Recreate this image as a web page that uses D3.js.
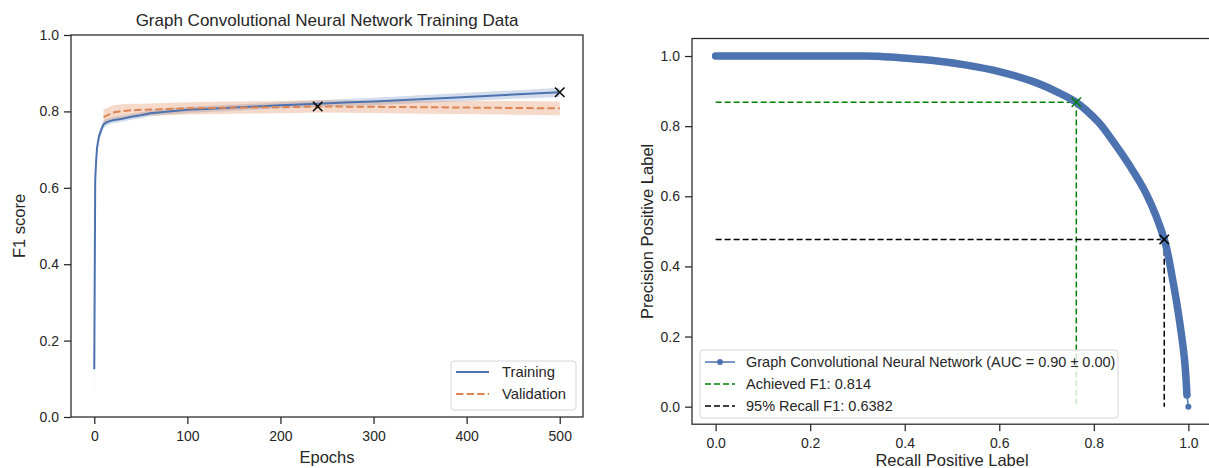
<!DOCTYPE html>
<html>
<head>
  <script src="https://cdnjs.cloudflare.com/ajax/libs/d3/7.8.5/d3.min.js"></script>
  <style>
    body { margin: 0; background: #fff; }
    svg text { font-family: "Liberation Sans", Arial, sans-serif; fill: #262626; }
  </style>
</head>
<body>
  <script>
    // ---- left panel: training curves ----
    var trainEpochs = [0, 1, 2, 3, 5, 8, 10, 13, 16, 20, 25, 30, 40, 50, 60, 80, 100, 125, 150, 175, 200, 240, 275, 300, 350, 400, 450, 500];
    var trainF1 = [0.125, 0.62, 0.67, 0.705, 0.734, 0.755, 0.766, 0.771, 0.774, 0.777, 0.779, 0.781, 0.786, 0.79, 0.795, 0.8, 0.804, 0.807, 0.81, 0.813, 0.816, 0.82, 0.824, 0.826, 0.832, 0.838, 0.844, 0.85];
    var trainStd = [0.125, 0.03, 0.02, 0.015, 0.012, 0.01, 0.01, 0.009, 0.008, 0.008, 0.008, 0.008, 0.008, 0.008, 0.008, 0.008, 0.008, 0.008, 0.008, 0.008, 0.008, 0.009, 0.009, 0.01, 0.01, 0.011, 0.011, 0.012];

    var valEpochs = [10, 20, 30, 40, 50, 75, 100, 150, 200, 240, 300, 350, 400, 450, 500];
    var valF1 = [0.785, 0.797, 0.801, 0.803, 0.804, 0.806, 0.808, 0.81, 0.811, 0.813, 0.812, 0.811, 0.81, 0.809, 0.808];
    var valStd = [0.02, 0.019, 0.018, 0.017, 0.016, 0.016, 0.016, 0.016, 0.016, 0.016, 0.016, 0.017, 0.017, 0.018, 0.018];

    var bestVal = [240, 0.813];
    var lastTrain = [500, 0.85];

    var leftXTicks = [0, 100, 200, 300, 400, 500];
    var leftYTicks = [0, 0.2, 0.4, 0.6, 0.8, 1.0];

    // ---- right panel: precision recall ----
    var recall = [0, 0.1, 0.2, 0.3, 0.35, 0.39, 0.46, 0.531, 0.602, 0.672, 0.722, 0.763, 0.81, 0.84, 0.875, 0.911, 0.949, 0.967, 0.981, 0.992, 0.997, 1.0];
    var precision = [1, 1, 1, 1, 0.999, 0.995, 0.987, 0.974, 0.955, 0.927, 0.898, 0.868, 0.811, 0.758, 0.689, 0.607, 0.477, 0.361, 0.247, 0.133, 0.033, 0.0];

    var achieved = [0.763, 0.868];
    var recall95 = [0.949, 0.477];

    var rightTicks = [0, 0.2, 0.4, 0.6, 0.8, 1.0];

    var blue = "#4c72b0", orange = "#dd8452", ink = "#262626";

    var svg = d3.select("body").append("svg")
      .attr("width", 1209)
      .attr("height", 468);

    function zip(a, b) {
      return a.map(function(v, i) { return [v, b[i]]; });
    }

    function drawX(g, x, y, c) {
      g.append("path")
        .attr("d", d3.symbol(d3.symbolX, 60)())
        .attr("transform", "translate(" + x + "," + y + ")")
        .attr("stroke", c)
        .attr("stroke-width", 1.5);
    }

    function styleAxis(g) {
      g.selectAll(".domain").remove();
      g.selectAll(".tick line").attr("stroke", ink).attr("stroke-width", 1.25);
      g.selectAll(".tick text").style("font-size", "14px").attr("fill", ink);
    }

    // ================= LEFT =================
    var L = { left: 71, right: 583, top: 35, bottom: 417 };
    var x1 = d3.scaleLinear().domain([-25, 525]).range([L.left, L.right]);
    var y1 = d3.scaleLinear().domain([0, 1]).range([L.bottom, L.top]);

    var left = svg.append("g");

    var trainArea = d3.area()
      .x(function(d, i) { return x1(trainEpochs[i]); })
      .y0(function(d, i) { return y1(Math.max(0, trainF1[i] - trainStd[i])); })
      .y1(function(d, i) { return y1(trainF1[i] + trainStd[i]); });
    var valArea = d3.area()
      .x(function(d, i) { return x1(valEpochs[i]); })
      .y0(function(d, i) { return y1(valF1[i] - valStd[i]); })
      .y1(function(d, i) { return y1(valF1[i] + valStd[i]); });

    left.append("path").datum(trainEpochs).attr("d", trainArea)
      .attr("fill", blue).attr("fill-opacity", 0.25);
    left.append("path").datum(valEpochs).attr("d", valArea)
      .attr("fill", orange).attr("fill-opacity", 0.3);

    var line1 = d3.line()
      .x(function(d) { return x1(d[0]); })
      .y(function(d) { return y1(d[1]); });

    left.append("path").datum(zip(trainEpochs, trainF1)).attr("d", line1)
      .attr("fill", "none").attr("stroke", blue).attr("stroke-width", 2);
    left.append("path").datum(zip(valEpochs, valF1)).attr("d", line1)
      .attr("fill", "none").attr("stroke", orange).attr("stroke-width", 2)
      .attr("stroke-dasharray", "7.4,3.2");

    drawX(left, x1(bestVal[0]), y1(bestVal[1]), "#000");
    drawX(left, x1(lastTrain[0]), y1(lastTrain[1]), "#000");

    left.append("rect")
      .attr("x", L.left).attr("y", L.top)
      .attr("width", L.right - L.left).attr("height", L.bottom - L.top)
      .attr("fill", "none").attr("stroke", ink).attr("stroke-width", 1.25);

    left.append("g").attr("transform", "translate(0," + L.bottom + ")")
      .call(d3.axisBottom(x1).tickValues(leftXTicks).tickSize(7).tickPadding(7))
      .call(styleAxis);
    left.append("g").attr("transform", "translate(" + L.left + ",0)")
      .call(d3.axisLeft(y1).tickValues(leftYTicks).tickFormat(d3.format(".1f")).tickSize(7).tickPadding(5))
      .call(styleAxis);

    left.append("text")
      .attr("x", (L.left + L.right) / 2).attr("y", 26)
      .attr("text-anchor", "middle").style("font-size", "17px")
      .text("Graph Convolutional Neural Network Training Data");
    left.append("text")
      .attr("x", (L.left + L.right) / 2).attr("y", 463)
      .attr("text-anchor", "middle").style("font-size", "16.5px")
      .text("Epochs");
    left.append("text")
      .attr("transform", "translate(25," + (L.top + L.bottom) / 2 + ") rotate(-90)")
      .attr("text-anchor", "middle").style("font-size", "16.5px")
      .text("F1 score");

    // legend left
    var lg = left.append("g");
    lg.append("rect")
      .attr("x", 451).attr("y", 361).attr("width", 125).attr("height", 49)
      .attr("rx", 3).attr("fill", "#fff").attr("fill-opacity", 0.8)
      .attr("stroke", "#d6d6d6").attr("stroke-width", 1);
    lg.append("line").attr("x1", 456).attr("x2", 489).attr("y1", 372).attr("y2", 372)
      .attr("stroke", blue).attr("stroke-width", 2);
    lg.append("line").attr("x1", 456).attr("x2", 489).attr("y1", 394).attr("y2", 394)
      .attr("stroke", orange).attr("stroke-width", 2).attr("stroke-dasharray", "7.4,3.2");
    lg.append("text").attr("x", 502).attr("y", 377).style("font-size", "14.8px").text("Training");
    lg.append("text").attr("x", 502).attr("y", 399).style("font-size", "14.8px").text("Validation");

    // ================= RIGHT =================
    var R = { left: 692, right: 1212, top: 38.5, bottom: 424.2 };
    var x2 = d3.scaleLinear().domain([-0.05, 1.05]).range([R.left, R.right]);
    var y2 = d3.scaleLinear().domain([-0.05, 1.05]).range([R.bottom, R.top]);

    var right = svg.append("g");
    var line2 = d3.line()
      .x(function(d) { return x2(d[0]); })
      .y(function(d) { return y2(d[1]); });

    // reference lines
    right.append("path").datum([[0, achieved[1]], achieved, [achieved[0], 0]]).attr("d", line2)
      .attr("fill", "none").attr("stroke", "#008000").attr("stroke-width", 1.5)
      .attr("stroke-dasharray", "6,3");
    right.append("path").datum([[0, recall95[1]], recall95, [recall95[0], 0]]).attr("d", line2)
      .attr("fill", "none").attr("stroke", "#000").attr("stroke-width", 1.5)
      .attr("stroke-dasharray", "6,3");

    var pr = zip(recall, precision);
    var smooth = d3.line()
      .x(function(d) { return x2(d[0]); })
      .y(function(d) { return y2(d[1]); })
      .curve(d3.curveCatmullRom.alpha(0.5));
    right.append("path").datum(pr).attr("d", line2)
      .attr("fill", "none").attr("stroke", blue).attr("stroke-width", 1.5);
    right.append("path").datum(pr.slice(0, pr.length - 1)).attr("d", smooth)
      .attr("fill", "none").attr("stroke", blue).attr("stroke-width", 7.5)
      .attr("stroke-linecap", "round").attr("stroke-linejoin", "round");
    right.selectAll("circle.pt").data([pr[0], pr[pr.length - 1]]).enter().append("circle")
      .attr("class", "pt")
      .attr("cx", function(d) { return x2(d[0]); })
      .attr("cy", function(d) { return y2(d[1]); })
      .attr("r", 3).attr("fill", blue);

    drawX(right, x2(achieved[0]), y2(achieved[1]), "#008000");
    drawX(right, x2(recall95[0]), y2(recall95[1]), "#000");

    right.append("rect")
      .attr("x", R.left).attr("y", R.top)
      .attr("width", R.right - R.left).attr("height", R.bottom - R.top)
      .attr("fill", "none").attr("stroke", ink).attr("stroke-width", 1.25);

    right.append("g").attr("transform", "translate(0," + R.bottom + ")")
      .call(d3.axisBottom(x2).tickValues(rightTicks).tickFormat(d3.format(".1f")).tickSize(7).tickPadding(7))
      .call(styleAxis);
    right.append("g").attr("transform", "translate(" + R.left + ",0)")
      .call(d3.axisLeft(y2).tickValues(rightTicks).tickFormat(d3.format(".1f")).tickSize(7).tickPadding(5))
      .call(styleAxis);

    right.append("text")
      .attr("x", (R.left + R.right) / 2).attr("y", 466)
      .attr("text-anchor", "middle").style("font-size", "16.5px")
      .text("Recall Positive Label");
    right.append("text")
      .attr("transform", "translate(653," + (R.top + R.bottom) / 2 + ") rotate(-90)")
      .attr("text-anchor", "middle").style("font-size", "16.5px")
      .text("Precision Positive Label");

    // legend right
    var rg = right.append("g");
    rg.append("rect")
      .attr("x", 700).attr("y", 350).attr("width", 418).attr("height", 68)
      .attr("rx", 3).attr("fill", "#fff").attr("fill-opacity", 0.8)
      .attr("stroke", "#d6d6d6").attr("stroke-width", 1);
    rg.append("line").attr("x1", 705).attr("x2", 735).attr("y1", 362).attr("y2", 362)
      .attr("stroke", blue).attr("stroke-width", 1.5);
    rg.append("circle").attr("cx", 720).attr("cy", 362).attr("r", 3).attr("fill", blue);
    rg.append("line").attr("x1", 705).attr("x2", 735).attr("y1", 384).attr("y2", 384)
      .attr("stroke", "#008000").attr("stroke-width", 1.5).attr("stroke-dasharray", "6,3");
    rg.append("line").attr("x1", 705).attr("x2", 735).attr("y1", 406).attr("y2", 406)
      .attr("stroke", "#000").attr("stroke-width", 1.5).attr("stroke-dasharray", "6,3");
    rg.append("text").attr("x", 746).attr("y", 367).style("font-size", "14.5px")
      .text("Graph Convolutional Neural Network (AUC = 0.90 \u00b1 0.00)");
    rg.append("text").attr("x", 746).attr("y", 389).style("font-size", "14.5px")
      .text("Achieved F1: 0.814");
    rg.append("text").attr("x", 746).attr("y", 411).style("font-size", "14.5px")
      .text("95% Recall F1: 0.6382");
  </script>
</body>
</html>
